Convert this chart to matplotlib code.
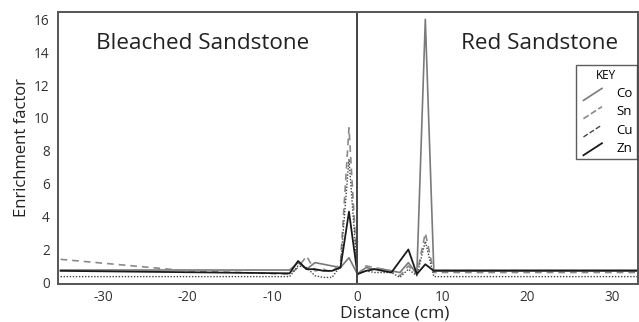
import matplotlib
matplotlib.use("Agg")
import matplotlib.pyplot as plt
from matplotlib.lines import Line2D
from matplotlib.legend_handler import HandlerBase

plt.rcParams['font.family'] = ['Open Sans', 'DejaVu Sans']
plt.rcParams['axes.unicode_minus'] = False

# Data (distance in cm, enrichment factor)
co_x = [-35, -8, -7, -6, -5, -4, -3, -2, -1, 0, 1, 2, 3, 4, 5, 6, 7, 8, 9, 35]
co_y = [0.75, 0.75, 1.2, 0.8, 1.2, 1.1, 1.0, 0.9, 1.5, 0.5, 0.9, 0.8, 0.8, 0.7, 0.6, 1.2, 0.5, 16.0, 0.75, 0.75]

sn_x = [-35, -20, -8, -7, -6, -5, -4, -3, -2, -1, 0, 1, 2, 3, 4, 5, 6, 7, 8, 9, 35]
sn_y = [1.4, 0.7, 0.5, 0.9, 1.6, 0.7, 0.8, 0.6, 1.2, 9.4, 0.5, 1.0, 0.9, 0.8, 0.7, 0.4, 1.0, 0.5, 3.0, 0.6, 0.6]

cu_x = [-35, -8, -7, -6, -5, -4, -3, -2, -1, 0, 1, 2, 3, 4, 5, 6, 7, 8, 9, 35]
cu_y = [0.35, 0.35, 1.0, 0.9, 0.4, 0.3, 0.3, 1.0, 7.5, 0.5, 0.7, 0.6, 0.6, 0.6, 0.3, 0.8, 0.4, 2.5, 0.35, 0.35]

zn_x = [-35, -8, -7, -6, -5, -4, -3, -2, -1, 0, 1, 2, 3, 4, 5, 6, 7, 8, 9, 35]
zn_y = [0.7, 0.55, 1.3, 0.8, 0.8, 0.7, 0.7, 0.9, 4.3, 0.5, 0.7, 0.8, 0.7, 0.6, 1.3, 2.0, 0.5, 1.1, 0.7, 0.7]

x_ticks = [-30, -20, -10, 0, 10, 20, 30]
y_ticks = [0, 2, 4, 6, 8, 10, 12, 14, 16]


class DiagHandler(HandlerBase):
    def create_artists(self, legend, orig_handle, xdescent, ydescent,
                       width, height, fontsize, trans):
        x0 = -xdescent + 0.15 * width
        x1 = -xdescent + 0.85 * width
        y0 = -ydescent - 0.35 * height
        y1 = -ydescent + 0.95 * height
        line = Line2D([x0, x1], [y0, y1],
                      color=orig_handle.get_color(),
                      linestyle=orig_handle.get_linestyle(),
                      linewidth=orig_handle.get_linewidth())
        line.set_transform(trans)
        return [line]


fig = plt.figure(figsize=(6.39, 3.22), dpi=100)
ax = fig.add_axes([0.0908, 0.118, 0.908, 0.845])

l_co, = ax.plot(co_x, co_y, color='#7a7a7a', lw=1.2, linestyle='-', label='Co')
l_sn, = ax.plot(sn_x, sn_y, color='#8a8a8a', lw=1.2, linestyle=(0, (4, 3)), label='Sn')
l_cu, = ax.plot(cu_x, cu_y, color='#444444', lw=1.0, linestyle=(0, (1, 1.2)), label='Cu')
l_zn, = ax.plot(zn_x, zn_y, color='#1a1a1a', lw=1.3, linestyle='-', label='Zn')

ax.axvline(0, color='#444444', lw=1.4)

ax.set_xlim(-35.3, 33.1)
ax.set_ylim(-0.1, 16.45)
ax.set_xticks(x_ticks)
ax.set_yticks(y_ticks)
ax.tick_params(length=0, labelsize=9.8, colors='#333333')
ax.tick_params(axis='x', pad=4)
ax.tick_params(axis='y', pad=6)
for s in ax.spines.values():
    s.set_color('#555555')
    s.set_linewidth(1.4)

ax.set_ylabel('Enrichment factor', fontsize=12, color='#222222', labelpad=3)
ax.set_xlabel('Distance (cm)', fontsize=12.5, color='#222222')
ax.xaxis.set_label_coords((395 - 58) / 580, -0.08)

ax.text(-18.2, 14.5, 'Bleached Sandstone', fontsize=16.2, color='#222222',
        ha='center', va='center')
ax.text(21.5, 14.5, 'Red Sandstone', fontsize=16.2, color='#222222',
        ha='center', va='center')

leg = ax.legend(handles=[l_co, l_sn, l_cu, l_zn], title='KEY',
                handler_map={Line2D: DiagHandler()},
                loc='upper right', bbox_to_anchor=(1.0, 0.81),
                fontsize=9.5, title_fontsize=8.5, frameon=True, fancybox=False,
                edgecolor='#333333', handlelength=2.0, handletextpad=0.8,
                labelspacing=0.4, borderpad=0.3, borderaxespad=0.1)
leg.get_frame().set_linewidth(1.0)

fig.savefig('out.png', dpi=100)
